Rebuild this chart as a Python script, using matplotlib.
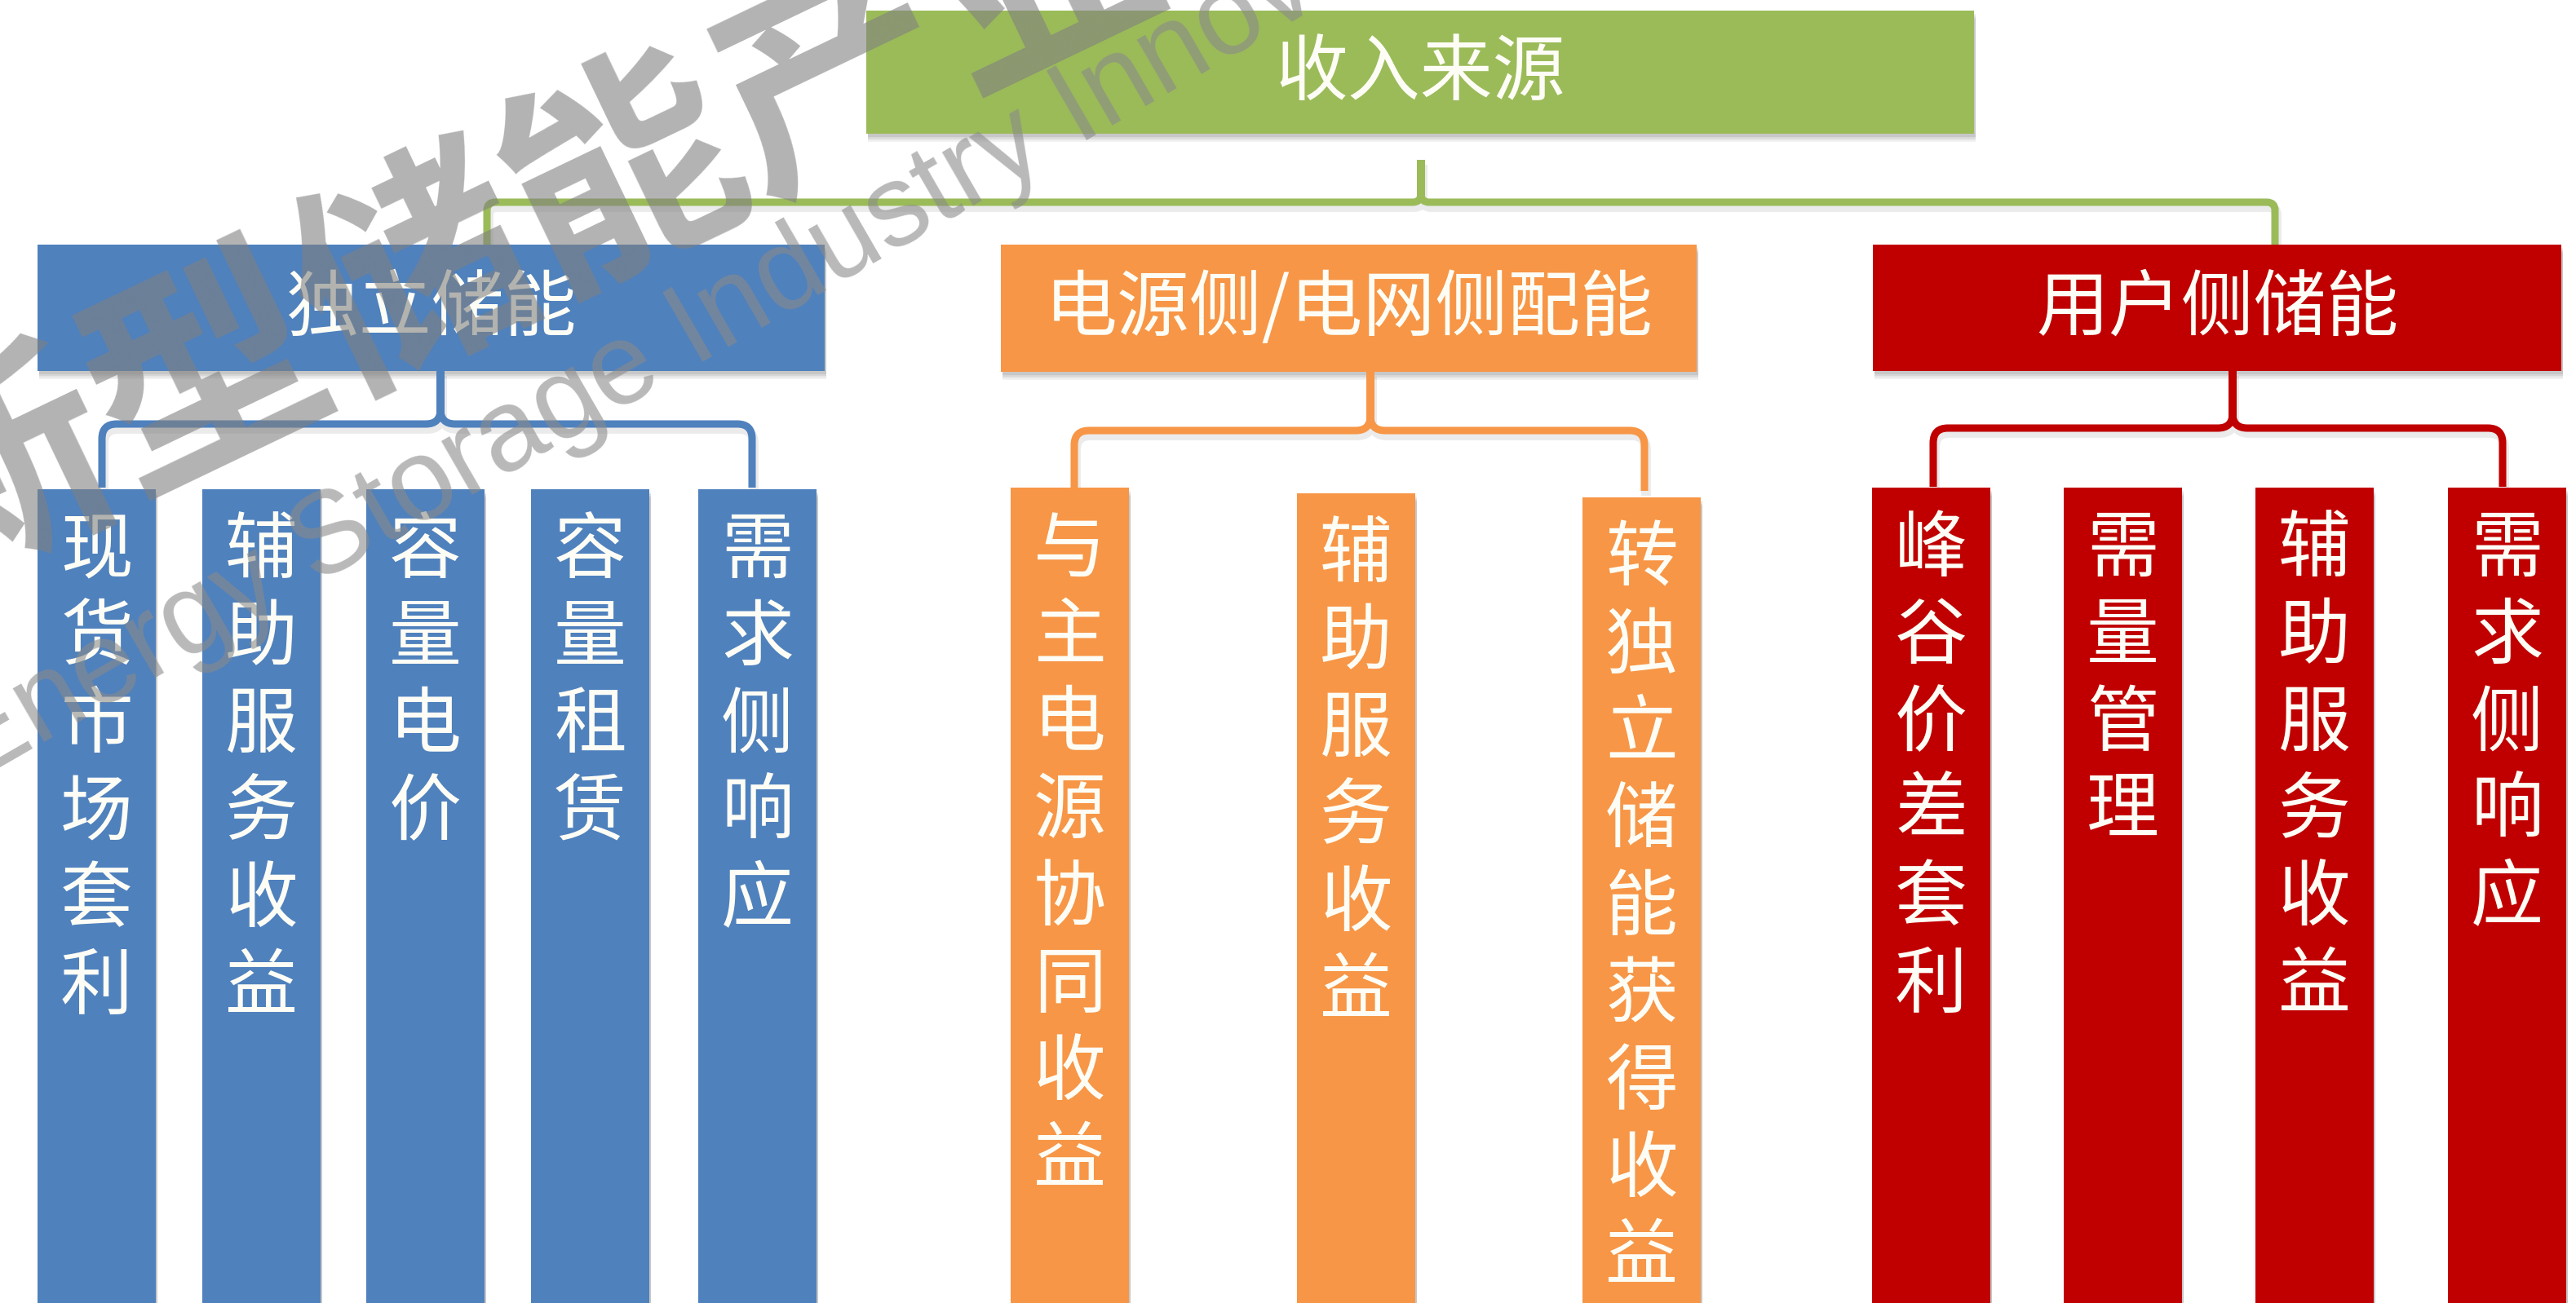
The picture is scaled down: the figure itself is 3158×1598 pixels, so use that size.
import matplotlib

matplotlib.use("Agg")
import matplotlib.pyplot as plt
from matplotlib.patches import Rectangle, PathPatch
from matplotlib.path import Path
from matplotlib.transforms import Affine2D

plt.rcParams["font.family"] = ["Noto Sans CJK SC", "DejaVu Sans"]

# ------------------------------------------------------------------
# contenuto dell'albero
ROOT_LABEL = "收入来源"
GROUP_LABELS = ["独立储能", "电源侧/电网侧配能", "用户侧储能"]
STANDALONE_ITEMS = ["现货市场套利", "辅助服务收益", "容量电价", "容量租赁", "需求侧响应"]
GRID_SIDE_ITEMS = ["与主电源协同收益", "辅助服务收益", "转独立储能获得收益"]
USER_SIDE_ITEMS = ["峰谷价差套利", "需量管理", "辅助服务收益", "需求侧响应"]
GROUP_ITEMS = [STANDALONE_ITEMS, GRID_SIDE_ITEMS, USER_SIDE_ITEMS]

WM_CN = "新型储能产业"
WM_EN = "Energy Storage Industry Innovation Alliance"

# ------------------------------------------------------------------
# layout in pixel (asse y verso il basso)
W, H = 3158, 1598
GREEN, BLUE, ORANGE, RED = "#9BBB59", "#4F81BD", "#F79646", "#C00000"
GROUP_COLORS = [BLUE, ORANGE, RED]
TXT = "#FDFDF6"

ROOT_BOX = (1062, 13, 2420, 164)
HEAD_BOXES = [(46, 300, 1011, 455), (1227, 300, 2080, 456), (2296, 300, 3140, 455)]
COL_W = 145
COL_X = [[46, 248, 449, 651, 856], [1239, 1590, 1940], [2295, 2530, 2765, 3001]]
COL_TOP = [[600] * 5, [598, 605, 610], [598] * 4]
CHAR_PITCH = 107
# (stem x, stem top, bar y, left x, right x, bottom y)
BRACES = [(540, 455, 520, 125, 922, 598),
          (1680, 456, 528, 1317, 2016, 602),
          (2737, 455, 525, 2370, 3068, 597)]
ROOT_BRACE = (1742, 196, 248, 597, 2789, 300)


def shadow(ax, x0, y0, x1, y1):
    for k, a in enumerate([0.05, 0.05, 0.06, 0.07]):
        d = 10 - 2 * k
        ax.add_patch(Rectangle((x0 + 2, y0 + d), x1 - x0, y1 - y0,
                               facecolor="black", alpha=a, lw=0, zorder=1))


def box(ax, rect, color, label=None, fs=64):
    x0, y0, x1, y1 = rect
    shadow(ax, x0, y0, x1, y1)
    ax.add_patch(Rectangle((x0, y0), x1 - x0, y1 - y0, facecolor=color, lw=0, zorder=2))
    if label:
        ax.text((x0 + x1) / 2, (y0 + y1) / 2 + 2, label, color=TXT, fontsize=fs,
                ha="center", va="center", zorder=3)


def brace(ax, spec, color, r=18, lw=6.5):
    xs, yt, yb, xl, xr, ybot = spec
    M, L, C = Path.MOVETO, Path.LINETO, Path.CURVE3
    verts, codes = [], []
    for xe, sgn in [(xl, 1), (xr, -1)]:
        verts += [(xe, ybot), (xe, yb + r), (xe, yb), (xe + sgn * r, yb),
                  (xs - sgn * r, yb), (xs, yb), (xs, yb - r), (xs, yt)]
        codes += [M, L, C, C, L, C, C, L]
    path = Path(verts, codes)
    ax.add_patch(PathPatch(path.transformed(Affine2D().translate(2, 6)),
                           fill=False, edgecolor="black", alpha=0.08, lw=lw + 2,
                           capstyle="butt", zorder=1))
    ax.add_patch(PathPatch(path, fill=False, edgecolor=color, lw=lw,
                           capstyle="butt", joinstyle="round", zorder=2))


fig = plt.figure(figsize=(W / 100, H / 100), dpi=100)
ax = fig.add_axes([0, 0, 1, 1])
ax.set_xlim(0, W)
ax.set_ylim(H, 0)
ax.axis("off")

box(ax, ROOT_BOX, GREEN, ROOT_LABEL, fs=64)
brace(ax, ROOT_BRACE, GREEN, r=10)

for g, label in enumerate(GROUP_LABELS):
    color = GROUP_COLORS[g]
    box(ax, HEAD_BOXES[g], color, label, fs=64)
    brace(ax, BRACES[g], color)
    for i, item in enumerate(GROUP_ITEMS[g]):
        x0, top = COL_X[g][i], COL_TOP[g][i]
        box(ax, (x0, top, x0 + COL_W, H + 20), color)
        for k, ch in enumerate(item):
            ax.text(x0 + COL_W / 2, top + 77 + k * CHAR_PITCH, ch, color=TXT,
                    fontsize=64, ha="center", va="center", zorder=3)

# filigrana
ax.text(640, 282, WM_CN, fontsize=204, fontweight="bold", color="#808080", alpha=0.6,
        rotation=25.6, rotation_mode="anchor", ha="center", va="center", zorder=5)
ax.text(-36, 962, WM_EN, fontsize=102, color="#8a8a8a", alpha=0.6,
        family=["Liberation Sans", "DejaVu Sans"],
        rotation=30, rotation_mode="anchor", ha="left", va="baseline", zorder=5)

fig.savefig("out.png", dpi=100, facecolor="white")
plt.close(fig)
